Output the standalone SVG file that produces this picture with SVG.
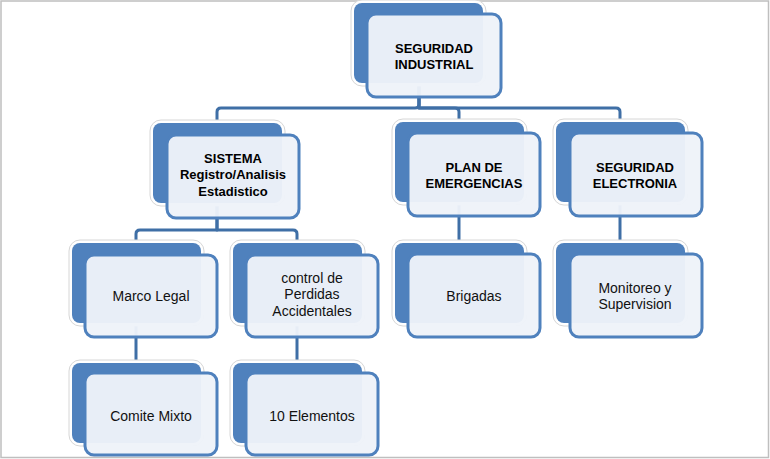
<svg xmlns="http://www.w3.org/2000/svg" width="770" height="459" viewBox="0 0 770 459">
<style>
.frame{fill:#ffffff;stroke:#BFBFBF;stroke-width:1.5}
.glow{fill:#ffffff;stroke:#D6D6D6;stroke-width:1}
.back{fill:#4F81BD}
.front{fill:#EEF3F9;fill-opacity:0.96;stroke:#4F81BD;stroke-width:3}
.conn{fill:none;stroke:#3F6FA6;stroke-width:3;stroke-linejoin:round}
.b{font-family:"Liberation Sans",Arial,sans-serif;font-size:13px;font-weight:bold;fill:#000;text-anchor:middle}
.n{font-family:"Liberation Sans",Arial,sans-serif;font-size:14px;fill:#111;text-anchor:middle}
</style>
<defs>
<g id="shape">
<rect class="glow" x="-3" y="-3" width="135" height="86" rx="11"/>
<rect class="back" x="0" y="0" width="129" height="80" rx="8"/>
</g>
</defs>
<rect class="frame" x="1" y="1" width="767.5" height="456.5"/>
<g id="connectors">
<path class="conn" d="M419,82 V104 Q419,108 415,108 H221 Q217,108 217,112 V123"/>
<path class="conn" d="M419,82 V108 H455 Q459,108 459,112 V122"/>
<path class="conn" d="M419,82 V108 H616 Q620,108 620,112 V122"/>
<path class="conn" d="M217,202 V230 H140 Q136,230 136,234 V243"/>
<path class="conn" d="M217,202 V230 H293 Q297,230 297,234 V243"/>
<path class="conn" d="M136,322 V363"/>
<path class="conn" d="M297,322 V363"/>
<path class="conn" d="M459,202 V243"/>
<path class="conn" d="M620,202 V243"/>
</g>
<g id="node-seguridad-industrial">
<use href="#shape" x="354" y="3"/>
<rect class="front" x="367" y="14" width="134" height="83" rx="9"/>
<text class="b" x="434" y="53">SEGURIDAD</text>
<text class="b" x="434" y="69">INDUSTRIAL</text>
</g>
<g id="node-sistema">
<use href="#shape" x="153" y="123"/>
<rect class="front" x="167" y="135" width="132" height="83" rx="9"/>
<text class="b" x="233" y="163">SISTEMA</text>
<text class="b" x="233" y="179">Registro/Analisis</text>
<text class="b" x="233" y="196">Estadistico</text>
</g>
<g id="node-plan">
<use href="#shape" x="395" y="122"/>
<rect class="front" x="408" y="133" width="132" height="83" rx="9"/>
<text class="b" x="474" y="172">PLAN DE</text>
<text class="b" x="474" y="188">EMERGENCIAS</text>
</g>
<g id="node-seguridad-electronia">
<use href="#shape" x="556" y="122"/>
<rect class="front" x="570" y="133" width="132" height="83" rx="9"/>
<text class="b" x="635" y="172">SEGURIDAD</text>
<text class="b" x="635" y="188">ELECTRONIA</text>
</g>
<g id="node-marco-legal">
<use href="#shape" x="72" y="243"/>
<rect class="front" x="85" y="255" width="132" height="82" rx="9"/>
<text class="n" x="151" y="301">Marco Legal</text>
</g>
<g id="node-control">
<use href="#shape" x="233" y="243"/>
<rect class="front" x="246" y="255" width="132" height="82" rx="9"/>
<text class="n" x="312" y="283">control de</text>
<text class="n" x="312" y="299">Perdidas</text>
<text class="n" x="312" y="316">Accidentales</text>
</g>
<g id="node-brigadas">
<use href="#shape" x="395" y="243"/>
<rect class="front" x="408" y="254" width="132" height="83" rx="9"/>
<text class="n" x="474" y="301">Brigadas</text>
</g>
<g id="node-monitoreo">
<use href="#shape" x="556" y="243"/>
<rect class="front" x="570" y="254" width="132" height="83" rx="9"/>
<text class="n" x="635" y="293">Monitoreo y</text>
<text class="n" x="635" y="309">Supervision</text>
</g>
<g id="node-comite-mixto">
<use href="#shape" x="72" y="363"/>
<rect class="front" x="85" y="373" width="132" height="82" rx="9"/>
<text class="n" x="151" y="421">Comite Mixto</text>
</g>
<g id="node-10-elementos">
<use href="#shape" x="233" y="363"/>
<rect class="front" x="246" y="373" width="132" height="82" rx="9"/>
<text class="n" x="312" y="421">10 Elementos</text>
</g>
</svg>
